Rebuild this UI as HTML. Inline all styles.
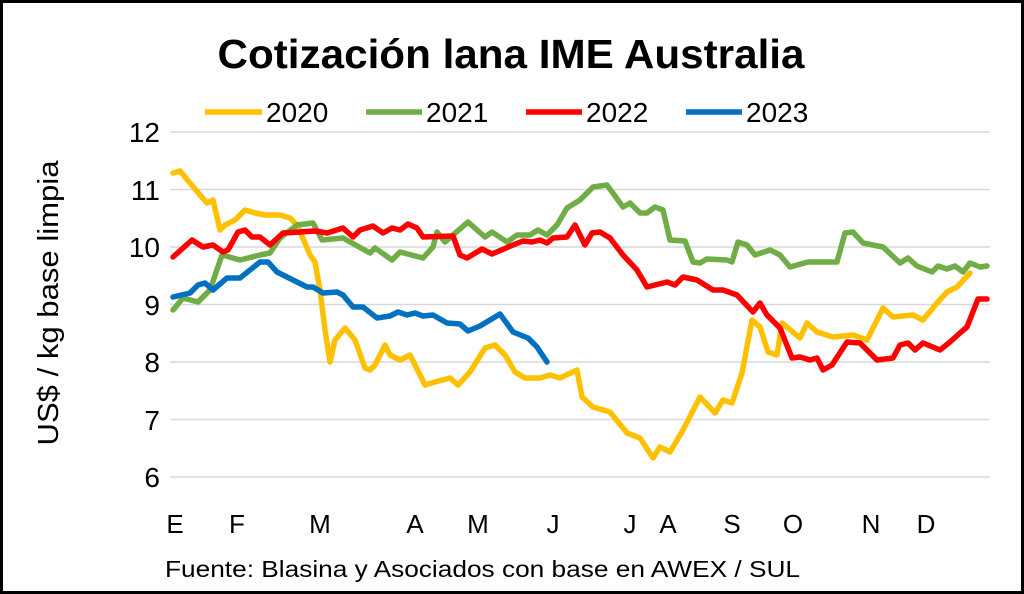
<!DOCTYPE html>
<html><head><meta charset="utf-8"><style>
html,body{margin:0;padding:0;background:#fff}
#c{width:1024px;height:594px;position:relative;box-sizing:border-box;border:3px solid #000;font-family:"Liberation Sans",sans-serif;overflow:hidden}
</style></head><body><div id="c">
<svg width="1024" height="594" style="position:absolute;left:-3px;top:-3px" font-family="Liberation Sans, sans-serif">
<text x="511" y="68" text-anchor="middle" font-size="41" font-weight="bold" fill="#000" textLength="587" lengthAdjust="spacingAndGlyphs">Cotización lana IME Australia</text>
<g font-size="28" fill="#000">
<line x1="205" y1="112" x2="262" y2="112" stroke="#FFC000" stroke-width="5.5"/><text x="266" y="122">2020</text>
<line x1="366" y1="112" x2="422" y2="112" stroke="#70AD47" stroke-width="5.5"/><text x="426" y="122">2021</text>
<line x1="526" y1="112" x2="582" y2="112" stroke="#FF0000" stroke-width="5.5"/><text x="586" y="122">2022</text>
<line x1="686" y1="112" x2="742" y2="112" stroke="#0070C0" stroke-width="5.5"/><text x="746" y="122">2023</text>
</g>
<g stroke="#d9d9d9" stroke-width="1.5">
<line x1="170" y1="132" x2="990" y2="132"/><line x1="170" y1="189.5" x2="990" y2="189.5"/><line x1="170" y1="247" x2="990" y2="247"/><line x1="170" y1="304.5" x2="990" y2="304.5"/><line x1="170" y1="362" x2="990" y2="362"/><line x1="170" y1="419.5" x2="990" y2="419.5"/><line x1="170" y1="477" x2="990" y2="477"/>
</g>
<g font-size="28" fill="#000" text-anchor="end">
<text x="160" y="142">12</text><text x="160" y="200">11</text><text x="160" y="257">10</text><text x="160" y="315">9</text><text x="160" y="372">8</text><text x="160" y="430">7</text><text x="160" y="487">6</text>
</g>
<text transform="translate(58,303) rotate(-90)" text-anchor="middle" font-size="29" fill="#000" textLength="285" lengthAdjust="spacingAndGlyphs">US$ / kg base limpia</text>
<g font-size="26" fill="#000" text-anchor="middle">
<text x="175" y="533">E</text><text x="237" y="533">F</text><text x="320" y="533">M</text><text x="415" y="533">A</text><text x="478" y="533">M</text><text x="553" y="533">J</text><text x="630" y="533">J</text><text x="668" y="533">A</text><text x="732" y="533">S</text><text x="793" y="533">O</text><text x="871" y="533">N</text><text x="926" y="533">D</text>
</g>
<text x="165" y="577" font-size="23" fill="#000" textLength="635" lengthAdjust="spacingAndGlyphs">Fuente: Blasina y Asociados con base en AWEX / SUL</text>
<g fill="none" stroke-width="5.5" stroke-linejoin="round" stroke-linecap="round">
<polyline stroke="#FFC000" points="173,173 180,171 190,183 200,195 207,203 213,200 220,230 225,225 235,220 245,210 255,213 265,215 280,215 290,218 297,225 305,243 310,255 315,262 320,290 325,330 330,362 335,340 345,328 355,340 365,368 370,370 375,365 385,345 390,355 400,360 410,355 425,385 435,382 450,378 458,385 470,372 485,348 495,345 505,355 515,372 525,378 540,378 550,375 560,378 577,370 582,397 593,407 610,412 627,433 640,438 653,458 660,447 670,452 683,430 700,397 715,413 723,400 732,403 742,373 752,320 760,327 768,352 777,355 782,323 800,338 807,323 817,332 833,337 853,335 867,340 883,308 893,317 913,315 923,320 937,303 947,292 957,287 970,273"/>
<polyline stroke="#70AD47" points="173,310 183,298 198,302 210,290 222,255 240,260 260,255 270,253 280,238 297,225 313,223 322,240 343,238 370,253 375,248 392,260 400,252 423,258 433,247 437,232 445,242 468,222 485,237 492,232 507,242 517,235 530,235 538,230 547,235 557,225 567,208 580,200 593,187 607,185 623,207 630,203 640,213 647,213 655,207 663,210 670,240 685,241 693,262 700,263 707,259 727,260 732,262 738,242 747,245 755,255 770,250 780,255 790,267 808,262 837,262 845,233 853,232 863,243 883,247 900,263 908,258 917,266 932,272 938,266 947,269 955,266 963,272 970,263 980,267 987,266"/>
<polyline stroke="#FF0000" points="173,257 192,240 203,247 213,245 223,252 228,250 238,232 245,230 252,237 260,237 270,245 283,233 300,232 315,231 327,233 343,228 353,237 360,230 373,226 383,233 392,228 400,230 408,224 417,228 423,237 453,236 460,255 467,258 482,249 492,254 513,245 523,241 532,242 540,240 547,243 553,238 567,237 575,225 585,245 592,233 600,232 610,238 623,255 637,270 647,287 667,282 675,285 683,277 697,280 713,290 723,290 737,295 753,312 760,303 767,315 780,328 792,358 800,357 810,360 817,358 823,370 832,365 847,342 860,343 877,360 893,358 900,345 908,343 915,350 923,343 940,350 950,342 960,333 967,327 978,299 987,299"/>
<polyline stroke="#0070C0" points="173,297 190,293 198,285 205,283 213,290 227,278 240,278 260,262 268,262 277,272 293,280 307,287 313,287 323,293 337,292 343,295 353,307 363,307 377,318 390,316 398,312 407,315 415,313 423,316 433,315 447,323 460,324 468,331 480,326 500,314 513,332 528,338 537,347 547,362"/>
</g>
</svg>
</div></body></html>
